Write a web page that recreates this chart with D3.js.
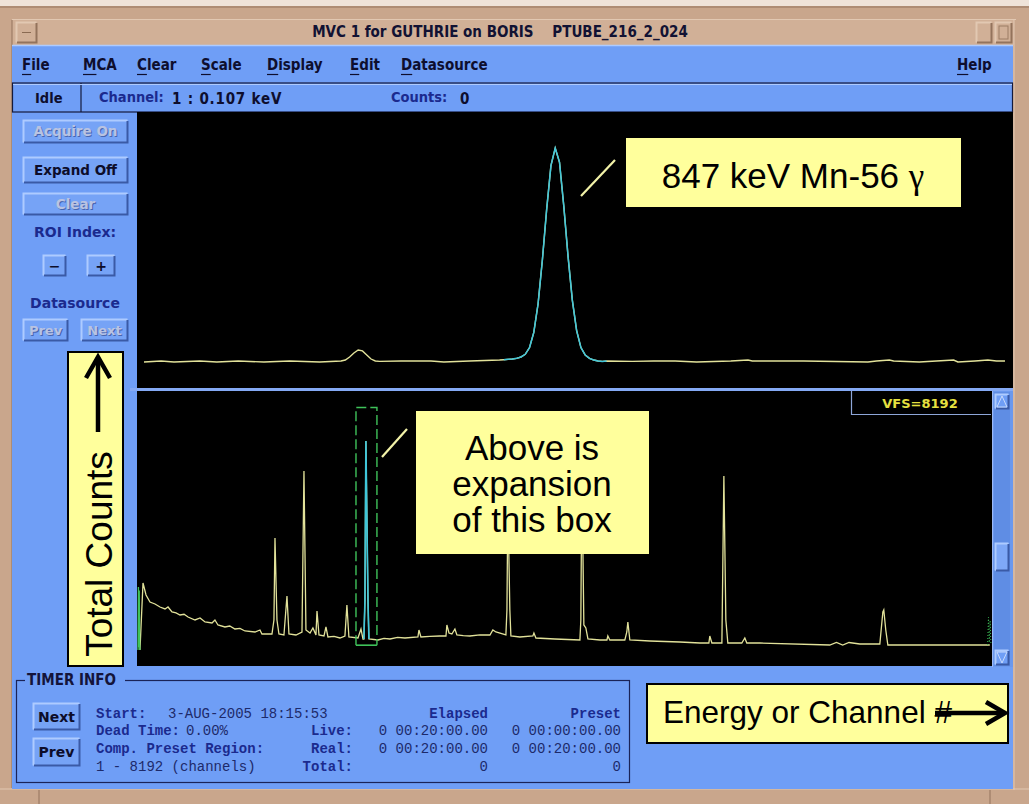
<!DOCTYPE html>
<html><head><meta charset="utf-8">
<script src="https://cdnjs.cloudflare.com/ajax/libs/d3/7.8.5/d3.min.js"></script>
<style>html,body{margin:0;padding:0;background:#fff;overflow:hidden}</style>
</head><body><svg id="c" width="1029" height="804" xmlns="http://www.w3.org/2000/svg"></svg>
<script>
// ---------------- DATA ----------------
const vfs = 8192;
const channelRange = [0, 8192];
const roiRange = [2091, 2292];           // expanded region (dashed box)
const lowerPeakRange = [2167, 2215];     // ROI peak drawn in cyan (full spectrum)
const upperPeakRange = [2175, 2199];     // ROI peak drawn in cyan (expansion)

const lowerChannels = [19,48,77,115,163,211,259,288,326,365,403,442,480,547,595,643,710,738,767,834,880,930,978,1026,1122,1170,1189,1285,1304,1314,1333,1352,1400,1429,1448,1515,1573,1592,1611,1650,1678,1707,1717,1736,1784,1803,1822,1880,1937,1985,2004,2023,2110,2139,2158,2167,2177,2186,2206,2215,2302,2360,2417,2490,2561,2685,2695,2714,2800,2896,2954,2963,2983,3011,3040,3059,3120,3184,3280,3376,3404,3433,3529,3539,3548,3567,3577,3663,3788,3798,3817,3999,4239,4248,4258,4277,4296,4316,4431,4498,4507,4526,4670,4689,4699,4718,4910,5198,5390,5476,5485,5505,5601,5620,5639,5658,5792,5821,5840,5965,6636,6700,6760,6820,6924,7116,7145,7154,7173,7193,8171];
const lowerCounts   = [477,2473,2116,1907,1848,1758,1699,1758,1609,1580,1520,1540,1460,1371,1430,1311,1281,1371,1222,1162,1190,1103,1120,1043,1013,1073,954,954,1371,3814,1371,954,924,2086,954,924,1013,5811,1073,983,1132,924,1639,924,894,1162,864,880,834,894,1818,864,834,1103,805,805,1967,6705,1967,805,775,820,805,850,834,864,1073,864,880,894,894,1222,983,954,1103,924,905,894,930,924,1073,1013,924,1669,4947,1669,894,864,894,983,834,805,775,1371,5841,1222,1132,805,775,775,894,775,775,1013,1311,775,745,715,685,685,894,685,685,5662,1371,685,685,834,685,685,626,700,626,700,655,655,1609,1669,1073,626,626];

const lowerLeftEdgeChannels = [0,4,8,12,16,19];
const lowerLeftEdgeCounts   = [480,2350,560,2250,640,477];
const lowerRightEdgeChannels = [8150,8158,8166,8174,8182];
const lowerRightEdgeCounts   = [626,1450,700,1350,626];

const upperChannels = [2091,2095,2098,2104,2108,2113,2119,2125,2132,2137,2138,2139,2140,2141,2142,2143,2144,2145,2146,2151,2158,2161,2167,2174,2175,2176,2177,2178,2179,2180,2181,2182,2183,2184,2185,2186,2187,2188,2189,2190,2191,2192,2193,2194,2195,2196,2197,2198,2199,2205,2210,2215,2220,2228,2232,2233,2245,2260,2262,2265,2266,2272,2276,2280,2281,2285,2288,2290,2292];
const upperCounts   = [772,802,772,802,772,802,772,802,772,802,830,920,1040,1129,1100,980,860,802,790,802,802,772,802,832,840,850,860,880,920,1000,1200,1650,2500,3800,5300,6600,7120,6700,5400,3900,2600,1700,1200,980,880,830,800,790,800,790,800,802,772,802,830,802,802,772,802,830,802,772,802,830,772,802,830,802,800];

const menuItems = ["File","MCA","Clear","Scale","Display","Edit","Datasource"];
const helpItem = "Help";
const titleText = "MVC 1 for GUTHRIE on BORIS    PTUBE_216_2_024";
const vfsLabel = "VFS=" + vfs;

// ---------------- SETUP ----------------
const svg = d3.select("#c");
const TAN = "#c9a68c", TAN_L = "#e2c8b2", TAN_D = "#93735c";
const BLUE = "#6f9ef6", BLUE_L = "#aecbff", BLUE_D = "#3a5aa6";
const NAVY = "#1b2a8e";
const COND = "'DejaVu Sans Condensed','DejaVu Sans',sans-serif";
const SANS = "'DejaVu Sans',sans-serif";
const ARIAL = "'Liberation Sans',Arial,sans-serif";
const MONO = "'Liberation Mono','DejaVu Sans Mono',monospace";

function rect(x, y, w, h, fill, stroke, sw) {
  return svg.append("rect").attr("x", x).attr("y", y).attr("width", w).attr("height", h)
    .attr("fill", fill || "none").attr("stroke", stroke || "none").attr("stroke-width", sw || 1);
}
function line(x1, y1, x2, y2, stroke, sw) {
  return svg.append("line").attr("x1", x1).attr("y1", y1).attr("x2", x2).attr("y2", y2)
    .attr("stroke", stroke).attr("stroke-width", sw || 1);
}
function bevel(x, y, w, h, face, light, dark) {
  rect(x, y, w, h, face);
  svg.append("path").attr("d", `M${x+0.5},${y+h-0.5}V${y+0.5}H${x+w-0.5}`).attr("fill","none").attr("stroke",light).attr("stroke-width",2);
  svg.append("path").attr("d", `M${x+1},${y+h-0.5}H${x+w-0.5}V${y+1}`).attr("fill","none").attr("stroke",dark).attr("stroke-width",2);
}
function text(x, y, s, opts) {
  const o = Object.assign({size: 14, family: COND, weight: "bold", fill: "#111", anchor: "start", stretch: "normal"}, opts || {});
  return svg.append("text").attr("x", x).attr("y", y).attr("dy", "0.36em")
    .attr("font-family", o.family).attr("font-size", o.size).attr("font-weight", o.weight)
    .attr("font-stretch", o.stretch).attr("fill", o.fill).attr("text-anchor", o.anchor)
    .attr("letter-spacing", o.ls || 0).style("white-space", "pre").text(s);
}
function button(x, y, w, h, label, enabled, size) {
  bevel(x, y, w, h, "#76a3f6", BLUE_L, BLUE_D);
  const cx = x + w / 2, cy = y + h / 2;
  if (enabled) {
    text(cx, cy, label, {size: size || 13.5, family: SANS, fill: "#0d0d2a", anchor: "middle"});
  } else {
    text(cx + 1, cy + 1, label, {size: size || 13.5, family: SANS, fill: "#4866b0", anchor: "middle"});
    text(cx, cy, label, {size: size || 13.5, family: SANS, fill: "#b9c3e2", anchor: "middle"});
  }
}

// ---------------- WINDOW CHROME ----------------
rect(0, 0, 1029, 804, TAN);
rect(0, 0, 1029, 6, "#efe3d9");
line(0, 7, 1029, 7, TAN_D, 1);
line(12, 19.5, 1016, 19.5, TAN_L, 1);
rect(12, 20, 1002, 25, "#d1b097");
line(12, 20, 12, 788, TAN_D, 1);
line(1014, 20, 1014, 790, TAN_L, 1);
bevel(16, 22, 21, 21, "#d1b097", TAN_L, TAN_D);
line(22, 32.5, 31, 32.5, "#8a6a52", 1);
bevel(976, 22, 16, 21, "#d1b097", TAN_L, TAN_D);
bevel(995, 22, 17, 21, "#d1b097", TAN_L, TAN_D);
rect(999, 26, 9, 13, "none", "#9c7c64", 1);
text(500, 32, titleText, {size: 15, fill: "#121233", anchor: "middle", stretch: "condensed"});
line(39, 790, 39, 804, TAN_D, 1);
line(990, 790, 990, 804, TAN_D, 1);
line(0, 789, 1029, 789, TAN_L, 1);

rect(12, 45, 1001, 744, BLUE);

// ---------------- MENU BAR ----------------
line(12, 45.5, 1013, 45.5, BLUE_L, 1.5);
const menuX = [22, 83, 137, 201, 267, 350, 401];
menuItems.forEach((m, i) => {
  const t = text(menuX[i], 65, m, {size: 15, fill: "#0e0e2e", stretch: "condensed"});
  const w0 = t.node().getSubStringLength(0, 1);
  line(menuX[i], 74.5, menuX[i] + w0, 74.5, "#0e0e2e", 1.2);
});
{
  const t = text(957, 65, helpItem, {size: 15, fill: "#0e0e2e", stretch: "condensed"});
  const w0 = t.node().getSubStringLength(0, 1);
  line(957, 74.5, 957 + w0, 74.5, "#0e0e2e", 1.2);
}

// ---------------- STATUS BAR ----------------
rect(12.5, 83, 1000, 29, BLUE, "#141a3c", 1.2);
line(81, 83, 81, 112, "#141a3c", 1.2);
line(13, 84.5, 1012, 84.5, BLUE_L, 1);
text(35, 98, "Idle", {size: 14.5, fill: "#0e0e2e", stretch: "condensed"});
text(99, 97, "Channel:", {size: 14.5, fill: NAVY, stretch: "condensed"});
text(172, 99, "1 : 0.107 keV", {size: 15, fill: "#0e0e2e", ls: 0.8});
text(391, 97, "Counts:", {size: 14.5, fill: NAVY, stretch: "condensed"});
text(460, 99, "0", {size: 15, fill: "#0e0e2e"});

// ---------------- LEFT PANEL ----------------
button(23, 120, 105, 23, "Acquire On", false);
button(23, 157, 105, 26, "Expand Off", true);
button(23, 193, 105, 22, "Clear", false);
text(75, 232, "ROI Index:", {size: 14, family: SANS, fill: NAVY, anchor: "middle"});
button(43, 255, 23, 21, "\u2212", true, 14);
button(87, 255, 28, 21, "+", true, 14);
text(75, 303, "Datasource", {size: 14, family: SANS, fill: NAVY, anchor: "middle"});
button(23, 319, 45, 22, "Prev", false, 13);
button(81, 319, 47, 22, "Next", false, 13);

// ---------------- PLOTS ----------------
const upper = {x0: 137, y0: 112, x1: 1013, y1: 388};
const lower = {x0: 137, y0: 391, x1: 992, y1: 666};
rect(upper.x0, upper.y0, upper.x1 - upper.x0, upper.y1 - upper.y0, "#000");
rect(130, 388, 883, 3, "#84a9f4");
rect(lower.x0, lower.y0, lower.x1 - lower.x0, lower.y1 - lower.y0, "#000");

const defs = svg.append("defs");
defs.append("clipPath").attr("id", "clipU").append("rect")
  .attr("x", upper.x0).attr("y", upper.y0).attr("width", upper.x1 - upper.x0).attr("height", upper.y1 - upper.y0);
defs.append("clipPath").attr("id", "clipL").append("rect")
  .attr("x", lower.x0).attr("y", lower.y0).attr("width", lower.x1 - lower.x0).attr("height", lower.y1 - lower.y0);

const xLow = d3.scaleLinear().domain(channelRange).range([138, 992]);
const yLow = d3.scaleLinear().domain([0, vfs]).range([666, 391]);
const xUp = d3.scaleLinear().domain(roiRange).range([144, 1005]);
const yUp = d3.scaleLinear().domain([0, vfs]).range([388, 112]);

const YEL = "#e2e29a", CYAN = "#3fc6da", GRN = "#3fc25a";

const gU = svg.append("g").attr("clip-path", "url(#clipU)");
const upData = upperChannels.map((c, i) => ({c, v: upperCounts[i]}));
const lineU = d3.line().x(d => xUp(d.c)).y(d => yUp(d.v));
gU.append("path").datum(upData).attr("d", lineU).attr("fill", "none").attr("stroke", YEL).attr("stroke-width", 1.4);
gU.append("path").datum(upData.filter(d => d.c >= upperPeakRange[0] && d.c <= upperPeakRange[1]))
  .attr("d", lineU).attr("fill", "none").attr("stroke", CYAN).attr("stroke-width", 1.5);

const gL = svg.append("g").attr("clip-path", "url(#clipL)");
const lowData = lowerChannels.map((c, i) => ({c, v: lowerCounts[i]}));
const lineL = d3.line().x(d => xLow(d.c)).y(d => yLow(d.v));
gL.append("path").datum(lowData).attr("d", lineL).attr("fill", "none").attr("stroke", YEL).attr("stroke-width", 1.3);
gL.append("path").datum(lowData.filter(d => d.c >= lowerPeakRange[0] && d.c <= lowerPeakRange[1]))
  .attr("d", lineL).attr("fill", "none").attr("stroke", CYAN).attr("stroke-width", 1.6);
gL.append("path").datum(lowerLeftEdgeChannels.map((c, i) => ({c, v: lowerLeftEdgeCounts[i]})))
  .attr("d", lineL).attr("fill", "none").attr("stroke", GRN).attr("stroke-width", 1.3);
gL.append("path").datum(lowerRightEdgeChannels.map((c, i) => ({c, v: lowerRightEdgeCounts[i]})))
  .attr("d", lineL).attr("fill", "none").attr("stroke", GRN).attr("stroke-width", 1).attr("stroke-dasharray", "1,2");

const bx0 = xLow(roiRange[0]), bx1 = xLow(roiRange[1]);
const by0 = yLow(7700), by1 = yLow(620);
gL.append("path").attr("d", `M${bx0},${by1}V${by0}H${bx1}V${by1}`)
  .attr("fill", "none").attr("stroke", GRN).attr("stroke-width", 1.4).attr("stroke-dasharray", "10,4");
gL.append("line").attr("x1", bx0).attr("x2", bx1).attr("y1", by1).attr("y2", by1)
  .attr("stroke", GRN).attr("stroke-width", 1.6);

svg.append("path").attr("d", `M851.5,391V414.5H991`).attr("fill", "none").attr("stroke", "#8ea6d8").attr("stroke-width", 1.2);
text(920, 403, vfsLabel, {size: 13, family: SANS, fill: "#e6e040", anchor: "middle"});

rect(992, 391, 21, 276, "#6a98ee");
line(992.5, 391, 992.5, 667, "#9dbaf6", 1);
rect(994, 392, 16, 274, "#5f8de4");
bevel(995, 394, 14, 15, "#6f9ef6", BLUE_L, BLUE_D);
svg.append("path").attr("d", "M997,407L1002,396L1007,407Z").attr("fill", "none").attr("stroke", "#c8dafc").attr("stroke-width", 1);
bevel(995, 650, 14, 15, "#6f9ef6", BLUE_L, BLUE_D);
svg.append("path").attr("d", "M997,652L1002,663L1007,652Z").attr("fill", "none").attr("stroke", "#c8dafc").attr("stroke-width", 1);
bevel(995, 543, 14, 28, "#7ea8f7", BLUE_L, BLUE_D);

// ---------------- TIMER INFO ----------------
rect(16.5, 680.5, 613, 102, "none", "#1a2358", 1.2);
rect(25, 672, 100, 16, BLUE);
text(27, 680, "TIMER INFO", {size: 15, fill: "#14143a", stretch: "condensed"});
button(33, 703, 47, 27, "Next", true, 14);
button(33, 738, 47, 28, "Prev", true, 14);

const lab = {size: 14, family: MONO, fill: NAVY};
const val = {size: 14, family: MONO, weight: "normal", fill: "#1d2a6a"};
const rows = [713, 730, 748, 766];
text(96, rows[0], "Start:", lab);
text(168, rows[0], "3-AUG-2005 18:15:53", val);
text(96, rows[1], "Dead Time:", lab);
text(186, rows[1], "0.00%", val);
text(96, rows[2], "Comp. Preset Region:", lab);
text(96, rows[3], "1 - 8192 (channels)", val);
text(353, rows[1], "Live:", Object.assign({}, lab, {anchor: "end"}));
text(353, rows[2], "Real:", Object.assign({}, lab, {anchor: "end"}));
text(353, rows[3], "Total:", Object.assign({}, lab, {anchor: "end"}));
text(488, rows[0], "Elapsed", Object.assign({}, lab, {anchor: "end"}));
text(621, rows[0], "Preset", Object.assign({}, lab, {anchor: "end"}));
const elapsed = ["0 00:20:00.00", "0 00:20:00.00", "0"];
const preset = ["0 00:00:00.00", "0 00:20:00.00", "0"];
elapsed.forEach((s, i) => text(488, rows[i + 1], s, Object.assign({}, val, {anchor: "end"})));
preset.forEach((s, i) => text(621, rows[i + 1], s, Object.assign({}, val, {anchor: "end"})));

// ---------------- ANNOTATIONS ----------------
const NOTE = "#ffff9c";
line(581, 196, 615, 160, "#f2f2a8", 2.2);
line(382, 457, 407, 429, "#f2f2a8", 2.2);
rect(626, 138, 335, 69, NOTE);
{
  const t = text(793, 175, "847 keV Mn-56 ", {size: 35, family: ARIAL, weight: "normal", fill: "#000", anchor: "middle"});
  t.append("tspan").attr("font-family", "'Liberation Serif','DejaVu Serif',serif").text("\u03b3");
}
rect(416, 411, 233, 143, NOTE);
["Above is", "expansion", "of this box"].forEach((s, i) =>
  text(532, 447 + i * 36, s, {size: 35, family: ARIAL, weight: "normal", fill: "#000", anchor: "middle"}));
rect(68, 352, 55, 314, NOTE, "#000", 2);
svg.append("text").attr("transform", "translate(99,554) rotate(-90)").attr("dy", "0.36em")
  .attr("font-family", ARIAL).attr("font-size", 37).attr("fill", "#000").attr("text-anchor", "middle")
  .text("Total Counts");
line(98, 432, 98, 360, "#000", 4.5);
svg.append("path").attr("d", "M86,378L98,357L110,378").attr("fill", "none").attr("stroke", "#000")
  .attr("stroke-width", 4.5);
rect(647, 684, 361, 59, NOTE, "#000", 2);
text(663, 712, "Energy or Channel #", {size: 31.5, family: ARIAL, weight: "normal", fill: "#000"});
line(935, 713, 1002, 713, "#000", 4.5);
svg.append("path").attr("d", "M986,702L1005,713L986,724").attr("fill", "none").attr("stroke", "#000")
  .attr("stroke-width", 4.5);
</script></body></html>
